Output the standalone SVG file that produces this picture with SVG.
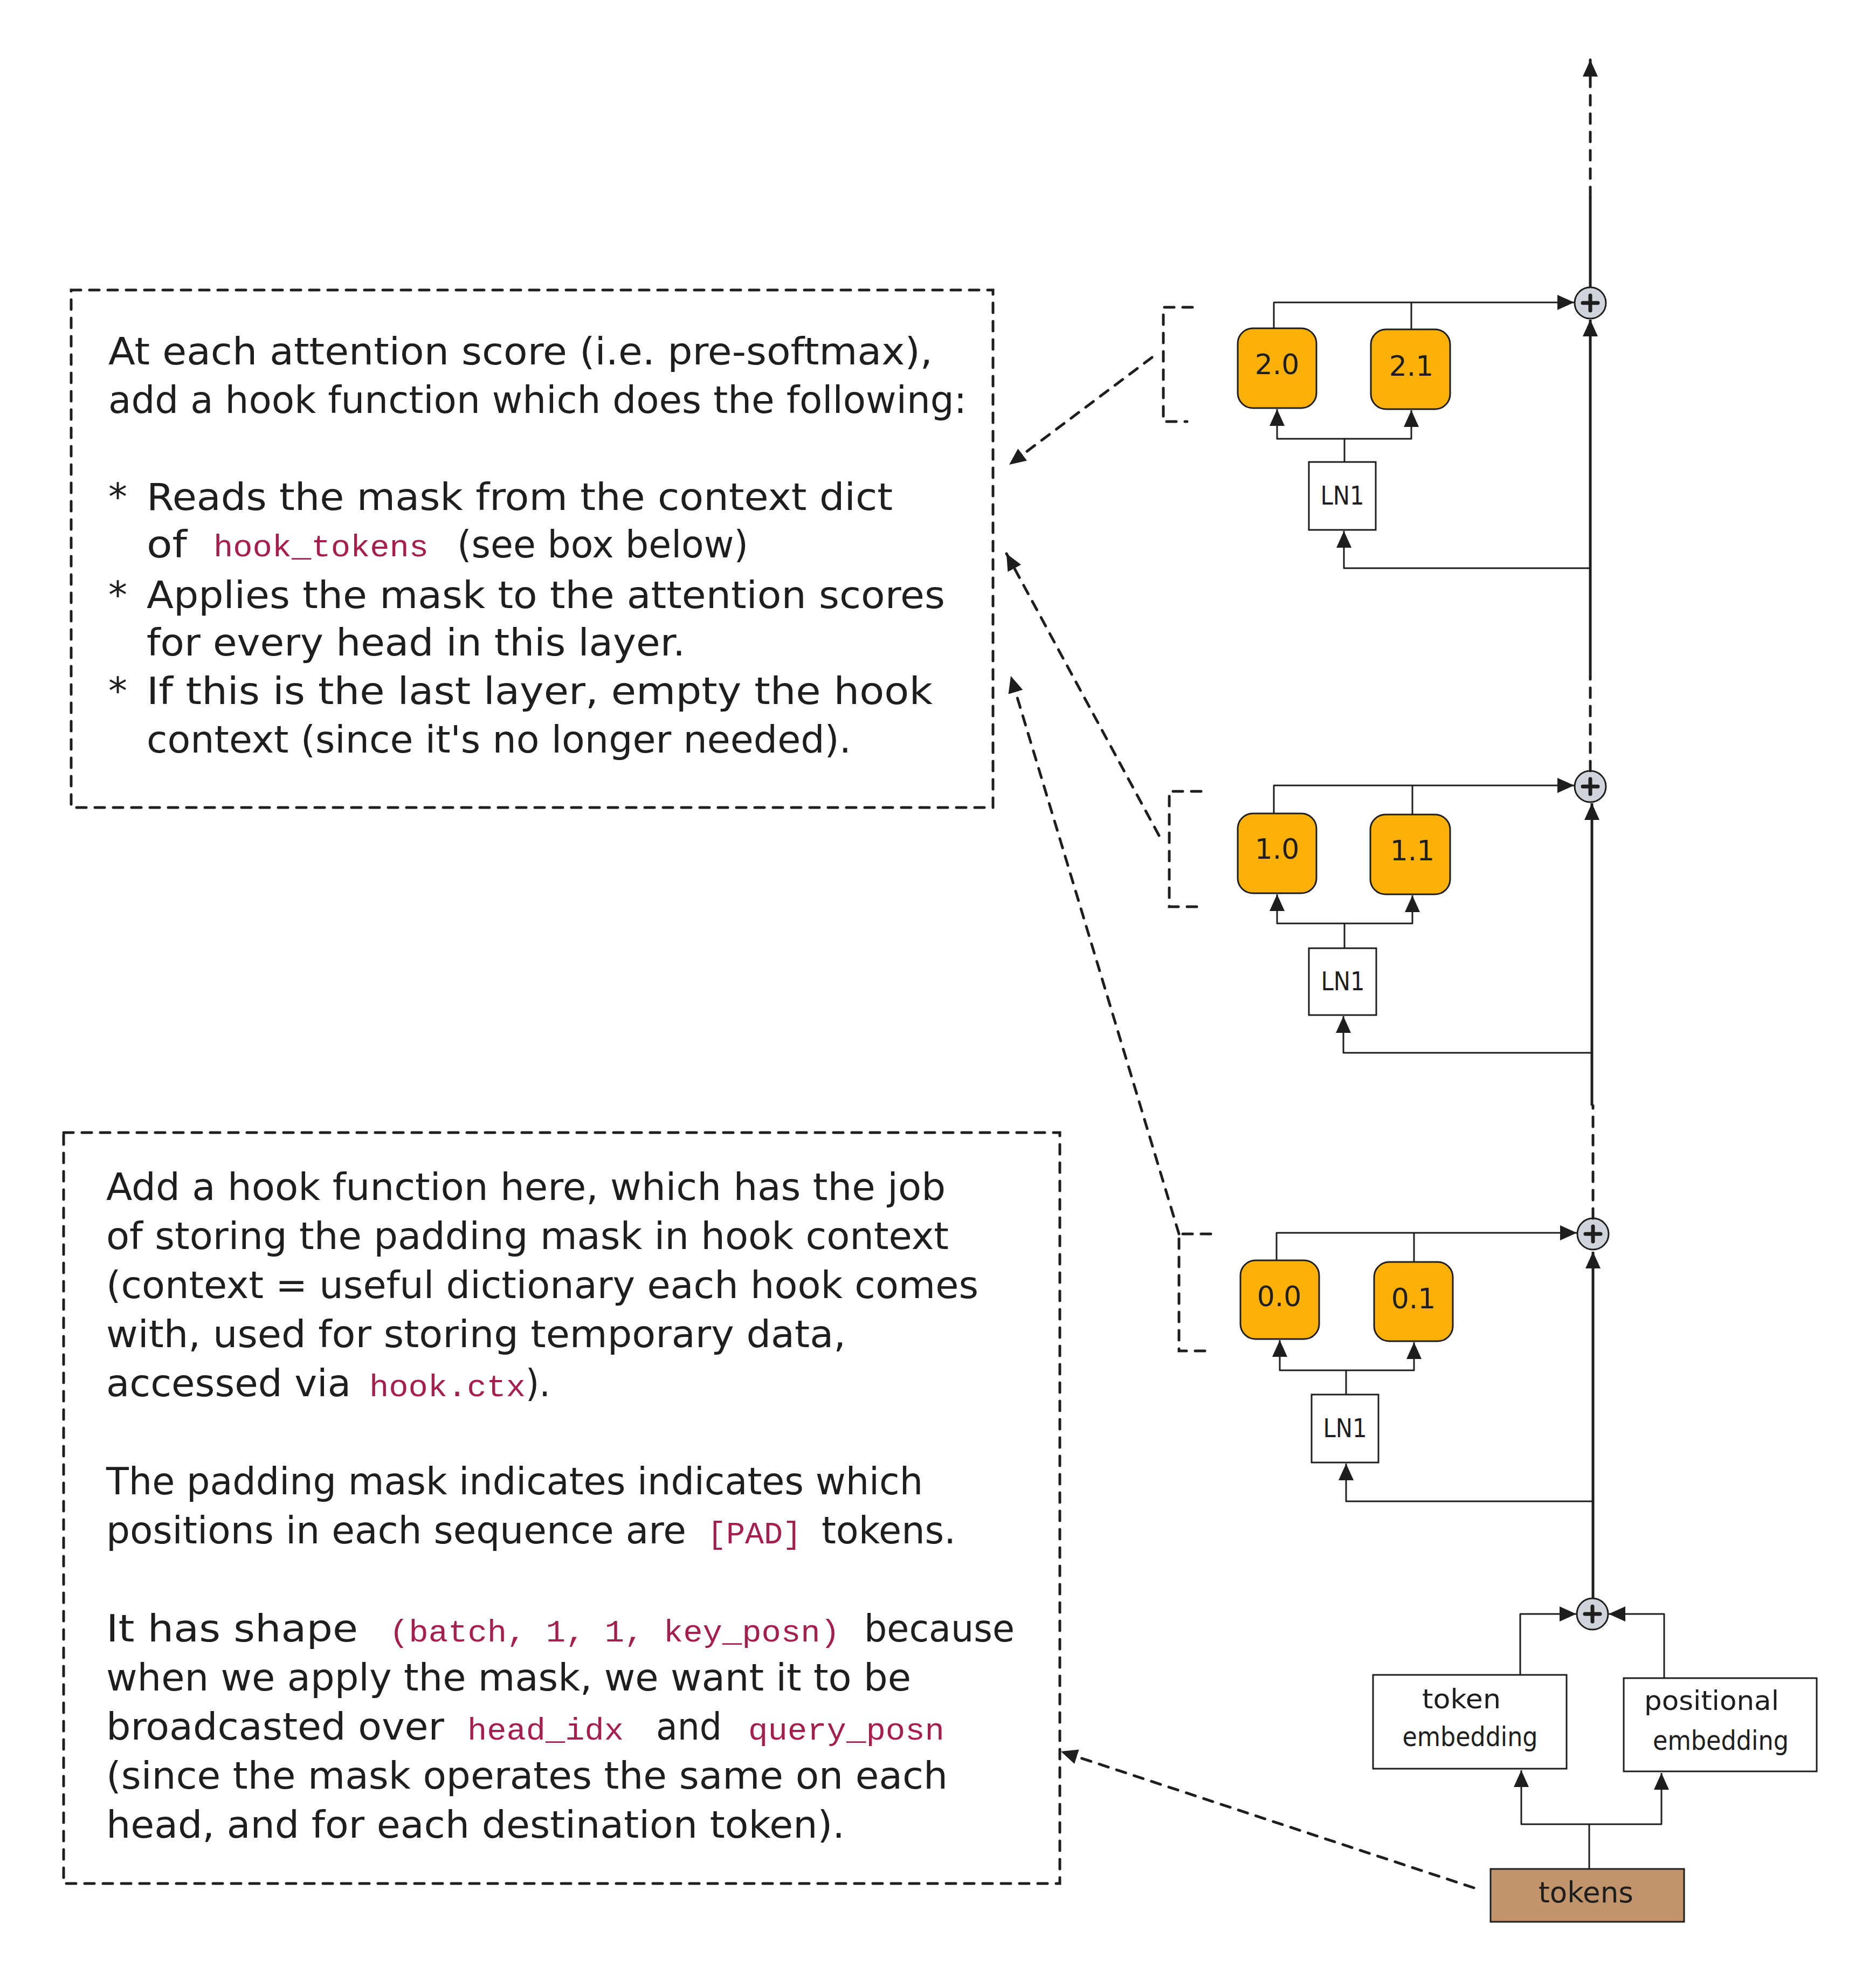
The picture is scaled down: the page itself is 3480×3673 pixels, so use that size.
<svg xmlns="http://www.w3.org/2000/svg" width="3480" height="3673" viewBox="0 0 3480 3673">
<style>
.t{font-family:"DejaVu Sans","Liberation Sans",sans-serif;font-size:70px;fill:#1e1e1e}
.c{font-family:"Liberation Mono","DejaVu Sans Mono",monospace;font-size:58px;fill:#a61e4d}
.lbl{font-family:"DejaVu Sans","Liberation Sans",sans-serif;fill:#1e1e1e;text-anchor:middle}
.ln{stroke:#1e1e1e;stroke-width:3;fill:none;stroke-linejoin:round}
.sp{stroke:#1e1e1e;stroke-width:5;fill:none}
.da{stroke:#1e1e1e;stroke-width:5;fill:none;stroke-dasharray:18 16;stroke-linecap:round}
.box{fill:#ffffff;stroke:#1e1e1e;stroke-width:3}
.head{fill:#fab005;stroke:#1e1e1e;stroke-width:3}
.plus circle{fill:#ced4da;stroke:#1e1e1e;stroke-width:3}
.plus path{stroke:#1e1e1e;stroke-width:7;stroke-linecap:round;fill:none}
</style>
<defs>
<marker id="ah" markerUnits="userSpaceOnUse" markerWidth="34" markerHeight="30" refX="31" refY="14" orient="auto">
<path d="M0,0 L31,14 L0,28 Z" fill="#1e1e1e"/>
</marker>
</defs>
<rect width="3480" height="3673" fill="#ffffff"/>

<g id="note-attn">
<rect x="132" y="538" width="1710" height="960" class="da" />
<text class="t" x="201" y="676" textLength="1529" lengthAdjust="spacingAndGlyphs">At each attention score (i.e. pre-softmax),</text>
<text class="t" x="201" y="766" textLength="1592" lengthAdjust="spacingAndGlyphs">add a hook function which does the following:</text>
<text class="t" x="201" y="946">*</text>
<text class="t" x="272" y="946" textLength="1384" lengthAdjust="spacingAndGlyphs">Reads the mask from the context dict</text>
<text class="t" x="272" y="1034" textLength="75" lengthAdjust="spacingAndGlyphs">of</text>
<text class="c" x="396" y="1032" textLength="399" lengthAdjust="spacingAndGlyphs">hook_tokens</text>
<text class="t" x="848" y="1034" textLength="540" lengthAdjust="spacingAndGlyphs">(see box below)</text>
<text class="t" x="201" y="1128">*</text>
<text class="t" x="272" y="1128" textLength="1481" lengthAdjust="spacingAndGlyphs">Applies the mask to the attention scores</text>
<text class="t" x="272" y="1216" textLength="999" lengthAdjust="spacingAndGlyphs">for every head in this layer.</text>
<text class="t" x="201" y="1306">*</text>
<text class="t" x="272" y="1306" textLength="1458" lengthAdjust="spacingAndGlyphs">If this is the last layer, empty the hook</text>
<text class="t" x="272" y="1396" textLength="1307" lengthAdjust="spacingAndGlyphs">context (since it's no longer needed).</text>
</g>

<g id="note-tokens">
<rect x="118" y="2101" width="1848" height="1393" class="da" />
<text class="t" x="197" y="2226" textLength="1557" lengthAdjust="spacingAndGlyphs">Add a hook function here, which has the job</text>
<text class="t" x="197" y="2317" textLength="1563" lengthAdjust="spacingAndGlyphs">of storing the padding mask in hook context</text>
<text class="t" x="197" y="2408" textLength="1618" lengthAdjust="spacingAndGlyphs">(context = useful dictionary each hook comes</text>
<text class="t" x="197" y="2499" textLength="1372" lengthAdjust="spacingAndGlyphs">with, used for storing temporary data,</text>
<text class="t" x="197" y="2590" textLength="454" lengthAdjust="spacingAndGlyphs">accessed via</text>
<text class="c" x="685" y="2590" textLength="290" lengthAdjust="spacingAndGlyphs">hook.ctx</text>
<text class="t" x="975" y="2590" textLength="46" lengthAdjust="spacingAndGlyphs">).</text>
<text class="t" x="197" y="2772" textLength="1515" lengthAdjust="spacingAndGlyphs">The padding mask indicates indicates which</text>
<text class="t" x="197" y="2863" textLength="1076" lengthAdjust="spacingAndGlyphs">positions in each sequence are</text>
<text class="c" x="1312" y="2863" textLength="175" lengthAdjust="spacingAndGlyphs">[PAD]</text>
<text class="t" x="1524" y="2863" textLength="249" lengthAdjust="spacingAndGlyphs">tokens.</text>
<text class="t" x="197" y="3045" textLength="467" lengthAdjust="spacingAndGlyphs">It has shape</text>
<text class="c" x="722" y="3045" textLength="836" lengthAdjust="spacingAndGlyphs">(batch, 1, 1, key_posn)</text>
<text class="t" x="1603" y="3045" textLength="279" lengthAdjust="spacingAndGlyphs">because</text>
<text class="t" x="197" y="3136" textLength="1493" lengthAdjust="spacingAndGlyphs">when we apply the mask, we want it to be</text>
<text class="t" x="197" y="3227" textLength="627" lengthAdjust="spacingAndGlyphs">broadcasted over</text>
<text class="c" x="867" y="3227" textLength="290" lengthAdjust="spacingAndGlyphs">head_idx</text>
<text class="t" x="1217" y="3227" textLength="122" lengthAdjust="spacingAndGlyphs">and</text>
<text class="c" x="1388" y="3227" textLength="364" lengthAdjust="spacingAndGlyphs">query_posn</text>
<text class="t" x="197" y="3318" textLength="1561" lengthAdjust="spacingAndGlyphs">(since the mask operates the same on each</text>
<text class="t" x="197" y="3409" textLength="1370" lengthAdjust="spacingAndGlyphs">head, and for each destination token).</text>
</g>

<g id="layer2-bracket"><path class="da" d="M2212,570 H2158 V782 H2202"/></g>
<g id="layer1-bracket"><path class="da" d="M2228,1468 H2169 V1682 H2223"/></g>
<g id="layer0-bracket"><path class="da" d="M2246,2289 H2187 V2506 H2239"/></g>

<g id="head-2-0"><rect class="head" x="2296" y="609" width="146" height="148" rx="28"/><text class="lbl" x="2369" y="694" font-size="52">2.0</text></g>
<g id="head-2-1"><rect class="head" x="2543" y="611" width="147" height="148" rx="28"/><text class="lbl" x="2618" y="697" font-size="52">2.1</text></g>
<g id="ln1-2"><rect class="box" x="2428" y="857" width="124" height="126"/><text class="lbl" x="2490" y="936" font-size="48" textLength="81" lengthAdjust="spacingAndGlyphs">LN1</text></g>
<g id="plus-2" class="plus" transform="translate(2950,562)"><circle r="29"/><path d="M-14,0 H14 M0,-14 V14"/></g>

<g id="head-1-0"><rect class="head" x="2296" y="1509" width="146" height="148" rx="28"/><text class="lbl" x="2369" y="1593" font-size="52">1.0</text></g>
<g id="head-1-1"><rect class="head" x="2542" y="1511" width="148" height="148" rx="28"/><text class="lbl" x="2620" y="1596" font-size="52">1.1</text></g>
<g id="ln1-1"><rect class="box" x="2428" y="1759" width="125" height="124"/><text class="lbl" x="2491" y="1837" font-size="48" textLength="81" lengthAdjust="spacingAndGlyphs">LN1</text></g>
<g id="plus-1" class="plus" transform="translate(2950,1459)"><circle r="29"/><path d="M-14,0 H14 M0,-14 V14"/></g>

<g id="head-0-0"><rect class="head" x="2301" y="2338" width="146" height="146" rx="28"/><text class="lbl" x="2373" y="2423" font-size="52">0.0</text></g>
<g id="head-0-1"><rect class="head" x="2549" y="2341" width="146" height="147" rx="28"/><text class="lbl" x="2622" y="2427" font-size="52">0.1</text></g>
<g id="ln1-0"><rect class="box" x="2433" y="2587" width="124" height="126"/><text class="lbl" x="2495" y="2666" font-size="48" textLength="81" lengthAdjust="spacingAndGlyphs">LN1</text></g>
<g id="plus-0" class="plus" transform="translate(2955,2289)"><circle r="29"/><path d="M-14,0 H14 M0,-14 V14"/></g>

<g id="plus-embed" class="plus" transform="translate(2954,2994)"><circle r="29"/><path d="M-14,0 H14 M0,-14 V14"/></g>
<g id="token-embedding"><rect class="box" x="2547" y="3107" width="359" height="174"/><text class="lbl" x="2711" y="3169" font-size="50" textLength="146" lengthAdjust="spacingAndGlyphs">token</text><text class="lbl" x="2727" y="3239" font-size="50" textLength="251" lengthAdjust="spacingAndGlyphs">embedding</text></g>
<g id="positional-embedding"><rect class="box" x="3012" y="3113" width="358" height="173"/><text class="lbl" x="3175" y="3172" font-size="50" textLength="250" lengthAdjust="spacingAndGlyphs">positional</text><text class="lbl" x="3192" y="3246" font-size="50" textLength="252" lengthAdjust="spacingAndGlyphs">embedding</text></g>
<g id="tokens"><rect x="2765" y="3467" width="359" height="98" fill="#c2946c" stroke="#1e1e1e" stroke-width="3"/><text class="lbl" x="2942" y="3529" font-size="54" textLength="176" lengthAdjust="spacingAndGlyphs">tokens</text></g>

<g id="connectors">
<path class="sp" d="M2955,2965 V2322" marker-end="url(#ah)"/>
<path class="da" d="M2955,2260 V2051"/>
<path class="sp" d="M2953,2051 V1490" marker-end="url(#ah)"/>
<path class="da" d="M2950,1430 V1256"/>
<path class="sp" d="M2950,1256 V593" marker-end="url(#ah)"/>
<path class="sp" d="M2950,533 V365"/>
<path class="da" d="M2950,365 V111" marker-end="url(#ah)"/>
<path class="ln" d="M2363,609 V561 H2920" marker-end="url(#ah)"/>
<path class="ln" d="M2618,611 V561"/>
<path class="ln" d="M2494,857 V814 H2369 V759" marker-end="url(#ah)"/>
<path class="ln" d="M2494,814 H2618 V761" marker-end="url(#ah)"/>
<path class="ln" d="M2950,1054 H2493 V985" marker-end="url(#ah)"/>
<path class="ln" d="M2363,1509 V1457 H2920" marker-end="url(#ah)"/>
<path class="ln" d="M2620,1511 V1457"/>
<path class="ln" d="M2494,1759 V1713 H2369 V1659" marker-end="url(#ah)"/>
<path class="ln" d="M2494,1713 H2620 V1661" marker-end="url(#ah)"/>
<path class="ln" d="M2952,1953 H2492 V1885" marker-end="url(#ah)"/>
<path class="ln" d="M2368,2338 V2287 H2925" marker-end="url(#ah)"/>
<path class="ln" d="M2623,2341 V2287"/>
<path class="ln" d="M2497,2587 V2542 H2374 V2486" marker-end="url(#ah)"/>
<path class="ln" d="M2497,2542 H2623 V2490" marker-end="url(#ah)"/>
<path class="ln" d="M2955,2785 H2497 V2715" marker-end="url(#ah)"/>
<path class="ln" d="M2820,3106 V2994 H2924" marker-end="url(#ah)"/>
<path class="ln" d="M3087,3113 V2994 H2984" marker-end="url(#ah)"/>
<path class="ln" d="M2948,3466 V3384 H2822 V3284" marker-end="url(#ah)"/>
<path class="ln" d="M2948,3384 H3082 V3289" marker-end="url(#ah)"/>
<path class="da" d="M2137,663 L1872,862" marker-end="url(#ah)"/>
<path class="da" d="M2150,1550 L1867,1027" marker-end="url(#ah)"/>
<path class="da" d="M2187,2289 L1875,1254" marker-end="url(#ah)"/>
<path class="da" d="M2734,3502 L1968,3249" marker-end="url(#ah)"/>
</g>
</svg>
